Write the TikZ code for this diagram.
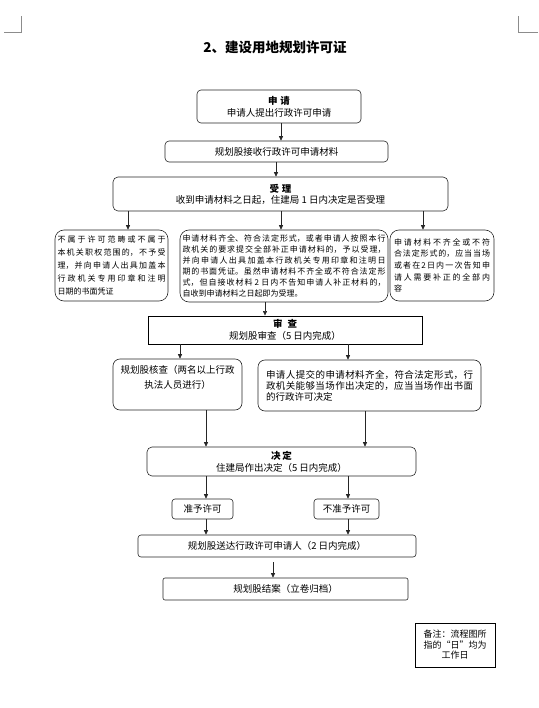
\documentclass[tikz,border=0pt]{standalone}
\usepackage{fontspec}
\setmainfont{Noto Sans CJK SC}
\usetikzlibrary{arrows.meta}
\XeTeXlinebreaklocale "zh"
\XeTeXlinebreakskip=0pt plus 3pt
\tolerance=10000
\hbadness=10000
\tikzset{
  bx/.style={draw=black!85, line width=0.6pt, rounded corners=4pt, inner sep=0pt,
    align=center, font=\fontsize{9.5}{12}\selectfont},
  sq/.style={bx, rounded corners=0pt, draw=black, line width=0.9pt},
  para/.style={draw=black!85, line width=0.6pt, rounded corners=9pt, inner ysep=0pt,
    align=justify, font=\fontsize{8}{#1}\selectfont},
  arr/.style={-{Triangle[length=4.5pt,width=4pt]}, line width=0.6pt, draw=black!85},
  ttl/.style={font=\fontsize{13.5}{15}\selectfont\bfseries},
  corner/.style={draw=black!45, line width=0.5pt}
}
\begin{document}
\begin{tikzpicture}[x=1pt,y=-1pt]
\useasboundingbox (0,0) rectangle (538,708);
% corner marks
\coordinate (cl1) at (4,32); \coordinate (cl2) at (21,32); \coordinate (cl3) at (21,16);
\coordinate (cr1) at (538,32); \coordinate (cr2) at (518,32); \coordinate (cr3) at (518,16);
\draw[corner] (cl1) -- (cl2) -- (cl3);
\draw[corner] (cr1) -- (cr2) -- (cr3);

\node[ttl] (title) at (275,47) {2、建设用地规划许可证};

\node[bx, minimum width=164pt, minimum height=33pt] (apply) at (279,106.5)
  {{\bfseries 申\hspace{3pt}请}\\申请人提出行政许可申请};
\node[bx, minimum width=223pt, minimum height=21pt] (recv) at (276.5,151.5)
  {规划股接收行政许可申请材料};
\node[bx, rounded corners=5pt, minimum width=335pt, minimum height=34pt, font=\fontsize{9.5}{11}\selectfont] (accept) at (280.5,194)
  {{\bfseries 受\hspace{3pt}理}\\收到申请材料之日起，住建局 1 日内决定是否受理};

\node[para=13.2, text width=108pt, inner xsep=2.5pt, minimum height=71pt] (L1) at (111.5,265.5)
  {不属于许可范畴或不属于\linebreak 本机关职权范围的，不予受\linebreak 理，并向申请人出具加盖本\linebreak 行政机关专用印章和注明\linebreak 日期的书面凭证};
\node[para=11, text width=203pt, inner xsep=2.5pt, minimum height=72pt] (M1) at (284,266)
  {申请材料齐全、符合法定形式，或者申请人按照本行\linebreak 政机关的要求提交全部补正申请材料的，予以受理，\linebreak 并向申请人出具加盖本行政机关专用印章和注明日\linebreak 期的书面凭证。虽然申请材料不齐全或不符合法定形\linebreak 式，但自接收材料 2 日内不告知申请人补正材料的，\linebreak 自收到申请材料之日起即为受理。};
\node[para=11.7, text width=96pt, inner xsep=4pt, minimum height=71pt] (R1) at (442,265.5)
  {申请材料不齐全或不符\linebreak 合法定形式的，应当当场\linebreak 或者在2日内一次告知申\linebreak 请人需要补正的全部内\linebreak 容};

\node[sq, minimum width=274pt, minimum height=28pt, font=\fontsize{9.5}{11.7}\selectfont] (review) at (285,330)
  {{\bfseries 审\hspace{5pt}查}\\规划股审查（5 日内完成）};

\node[bx, rounded corners=7pt, minimum width=129pt, minimum height=51pt, font=\fontsize{9.5}{15}\selectfont] (check) at (177.5,384.5)
  {规划股核查（两名以上行政\\执法人员进行）\\\mbox{}};
\node[bx, rounded corners=7pt, align=justify, text width=207pt, inner xsep=8pt, minimum height=51pt,
  font=\fontsize{9.5}{11}\selectfont] (onsite) at (369.5,385.5)
  {申请人提交的申请材料齐全，符合法定形式，行\linebreak 政机关能够当场作出决定的，应当当场作出书面\linebreak 的行政许可决定};

\node[bx, rounded corners=5pt, minimum width=269pt, minimum height=29pt] (decide) at (281.5,461.5)
  {{\bfseries 决\hspace{2pt}定}\\住建局作出决定（5 日内完成）};

\node[bx, rounded corners=3pt, minimum width=61pt, minimum height=20pt] (grant) at (202.5,509) {准予许可};
\node[bx, rounded corners=3pt, minimum width=65pt, minimum height=20pt] (deny) at (346.5,509) {不准予许可};

\node[bx, rounded corners=3pt, minimum width=278pt, minimum height=22pt] (deliver) at (277,546)
  {规划股送达行政许可申请人（2 日内完成）};
\node[bx, rounded corners=2pt, minimum width=245pt, minimum height=22pt] (close) at (285.5,589)
  {规划股结案（立卷归档）};

\node[sq, minimum width=80pt, minimum height=44pt, font=\fontsize{9}{10.5}\selectfont] (note) at (455,645)
  {备注：流程图所\\指的“日”均为\\工作日};

% x positions of connectors
\coordinate (x128) at (128,0);
\coordinate (x180) at (180,0);
\coordinate (x206) at (206,0);
\coordinate (x265) at (265,0);
\coordinate (x273) at (273,0);
\coordinate (x276) at (276,0);
\coordinate (x281) at (281,0);
\coordinate (x348) at (348,0);
\coordinate (x365) at (365,0);
\coordinate (x423) at (423,0);

\draw[arr] (apply.south -| x281) -- (recv.north -| x281);
\draw[arr] (recv.south -| x276) -- (accept.north -| x276);
\draw[arr] (accept.south -| x128) -- (L1.north -| x128);
\draw[arr] (accept.south -| x281) -- (M1.north -| x281);
\draw[arr] (accept.south -| x423) -- (R1.north -| x423);
\draw[arr] (M1.south -| x265) -- (review.north -| x265);
\draw[arr] (review.south -| x180) -- (check.north -| x180);
\draw[arr] (review.south -| x348) -- (onsite.north -| x348);
\draw[arr] (check.south -| x206) -- (decide.north -| x206);
\draw[arr] (onsite.south -| x365) -- (decide.north -| x365);
\draw[arr] (decide.south -| x206) -- (grant.north -| x206);
\draw[arr] (decide.south -| x348) -- (deny.north -| x348);
\draw[arr] (grant.south -| x206) -- (deliver.north -| x206);
\draw[arr] (deny.south -| x348) -- (deliver.north -| x348);
\draw[arr, shorten <=5pt] (deliver.south -| x273) -- (close.north -| x273);
\end{tikzpicture}
\end{document}
